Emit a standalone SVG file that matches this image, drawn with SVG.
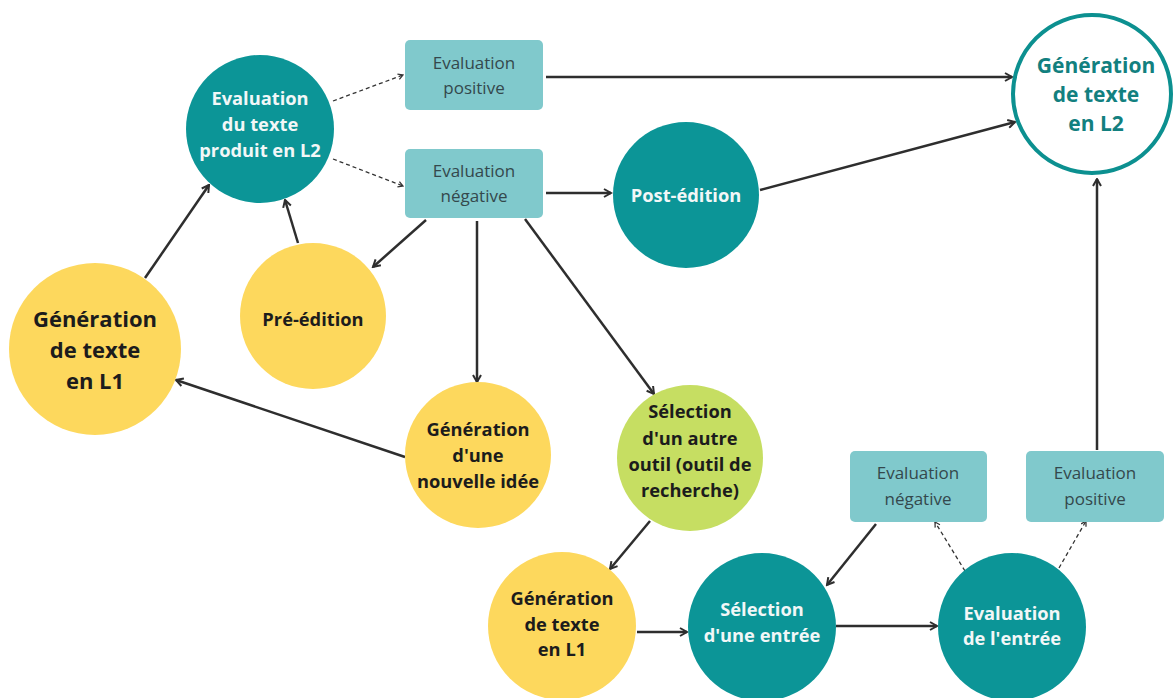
<svg xmlns="http://www.w3.org/2000/svg" width="1173" height="698" viewBox="0 0 1173 698">
<style>
.teal{fill:#0c9597}
.yel{fill:#fdd85d}
.grn{fill:#c6de62}
.box{fill:#80c9cc}
.tw{font-family:"Open Sans","Noto Sans",sans-serif;font-weight:700;fill:#f2f7f7;text-anchor:middle;font-size:18.3px}
.tk{font-family:"Open Sans","Noto Sans",sans-serif;font-weight:700;fill:#1c1c1c;text-anchor:middle;font-size:18.3px}
.tb{font-family:"Open Sans","Noto Sans",sans-serif;font-weight:400;fill:#34484c;text-anchor:middle;font-size:17px}
.ln{stroke:#2e2e2e;stroke-width:2.5;fill:none;marker-end:url(#ah)}
.ds{stroke:#333;stroke-width:1.3;fill:none;stroke-dasharray:4 3;marker-end:url(#ahs)}
</style>
<defs>
<marker id="ah" viewBox="0 0 10 10" refX="8.5" refY="5" markerWidth="10" markerHeight="10" markerUnits="userSpaceOnUse" orient="auto">
<path d="M1.5,1 L8.5,5 L1.5,9" fill="none" stroke="#2e2e2e" stroke-width="2"/>
</marker>
<marker id="ahs" viewBox="0 0 10 10" refX="8.5" refY="5" markerWidth="7" markerHeight="7" markerUnits="userSpaceOnUse" orient="auto">
<path d="M1.5,1 L8.5,5 L1.5,9" fill="none" stroke="#333" stroke-width="1.8"/>
</marker>
</defs>
<rect width="1173" height="698" fill="#ffffff"/>
<g id="connectors">
<line class="ds" x1="333" y1="101" x2="403" y2="75"/>
<line class="ds" x1="333" y1="159" x2="403" y2="186"/>
<line class="ln" x1="546" y1="77" x2="1012" y2="77"/>
<line class="ln" x1="546" y1="193" x2="611" y2="193"/>
<line class="ln" x1="760" y1="190" x2="1015" y2="122"/>
<line class="ln" x1="426" y1="220" x2="373" y2="267"/>
<line class="ln" x1="477" y1="221" x2="477" y2="382"/>
<line class="ln" x1="525" y1="219" x2="654" y2="394"/>
<line class="ln" x1="405" y1="457" x2="176" y2="380"/>
<line class="ln" x1="145" y1="278" x2="209" y2="185"/>
<line class="ln" x1="298" y1="243" x2="285" y2="200"/>
<line class="ln" x1="650" y1="521" x2="610" y2="569"/>
<line class="ln" x1="637" y1="632" x2="687" y2="632"/>
<line class="ln" x1="836" y1="626" x2="937" y2="626"/>
<line class="ln" x1="876" y1="524" x2="827" y2="585"/>
<line class="ds" x1="965" y1="571" x2="935" y2="522"/>
<line class="ds" x1="1059" y1="568" x2="1086" y2="521"/>
<line class="ln" x1="1097" y1="450" x2="1097" y2="179"/>
</g>
<g id="n_eval_l2">
<circle class="teal" cx="260" cy="129" r="74"/>
<text class="tw"><tspan x="260" y="105">Evaluation</tspan><tspan x="260" y="131">du texte</tspan><tspan x="260" y="157">produit en L2</tspan></text>
</g>
<g id="n_eval_pos_top">
<rect class="box" x="405" y="40" width="138" height="70" rx="5"/>
<text class="tb"><tspan x="474" y="69">Evaluation</tspan><tspan x="474" y="94">positive</tspan></text>
</g>
<g id="n_eval_neg_top">
<rect class="box" x="405" y="149" width="138" height="69" rx="5"/>
<text class="tb"><tspan x="474" y="177">Evaluation</tspan><tspan x="474" y="202">négative</tspan></text>
</g>
<g id="n_gen_l2">
<circle cx="1092" cy="94" r="79" fill="#ffffff" stroke="#0c9090" stroke-width="4"/>
<text class="tw" style="fill:#12807f;font-size:21px"><tspan x="1096" y="73">Génération</tspan><tspan x="1096" y="102">de texte</tspan><tspan x="1096" y="131">en L2</tspan></text>
</g>
<g id="n_post">
<circle class="teal" cx="686" cy="195" r="73"/>
<text class="tw" x="686" y="202">Post-édition</text>
</g>
<g id="n_gen_l1">
<circle class="yel" cx="95" cy="349" r="86"/>
<text class="tk" style="font-size:22px"><tspan x="95" y="327">Génération</tspan><tspan x="95" y="358">de texte</tspan><tspan x="95" y="389">en L1</tspan></text>
</g>
<g id="n_pre">
<circle class="yel" cx="313" cy="316" r="73"/>
<text class="tk" x="313" y="326">Pré-édition</text>
</g>
<g id="n_idee">
<circle class="yel" cx="478" cy="455" r="73"/>
<text class="tk"><tspan x="478" y="436">Génération</tspan><tspan x="478" y="462">d'une</tspan><tspan x="478" y="488">nouvelle idée</tspan></text>
</g>
<g id="n_outil">
<circle class="grn" cx="690" cy="458" r="73"/>
<text class="tk"><tspan x="690" y="418">Sélection</tspan><tspan x="690" y="445">d'un autre</tspan><tspan x="690" y="471">outil (outil de</tspan><tspan x="690" y="497">recherche)</tspan></text>
</g>
<g id="n_gen_l1_b">
<circle class="yel" cx="562" cy="626" r="74"/>
<text class="tk"><tspan x="562" y="605">Génération</tspan><tspan x="562" y="631">de texte</tspan><tspan x="562" y="656">en L1</tspan></text>
</g>
<g id="n_sel_entree">
<circle class="teal" cx="762" cy="627" r="74"/>
<text class="tw"><tspan x="762" y="616">Sélection</tspan><tspan x="762" y="642">d'une entrée</tspan></text>
</g>
<g id="n_eval_entree">
<circle class="teal" cx="1012" cy="627" r="74"/>
<text class="tw"><tspan x="1012" y="620">Evaluation</tspan><tspan x="1012" y="645">de l'entrée</tspan></text>
</g>
<g id="n_eval_neg_b">
<rect class="box" x="850" y="451" width="137" height="71" rx="5"/>
<text class="tb"><tspan x="918" y="479">Evaluation</tspan><tspan x="918" y="505">négative</tspan></text>
</g>
<g id="n_eval_pos_b">
<rect class="box" x="1026" y="451" width="138" height="71" rx="5"/>
<text class="tb"><tspan x="1095" y="479">Evaluation</tspan><tspan x="1095" y="505">positive</tspan></text>
</g>
</svg>
